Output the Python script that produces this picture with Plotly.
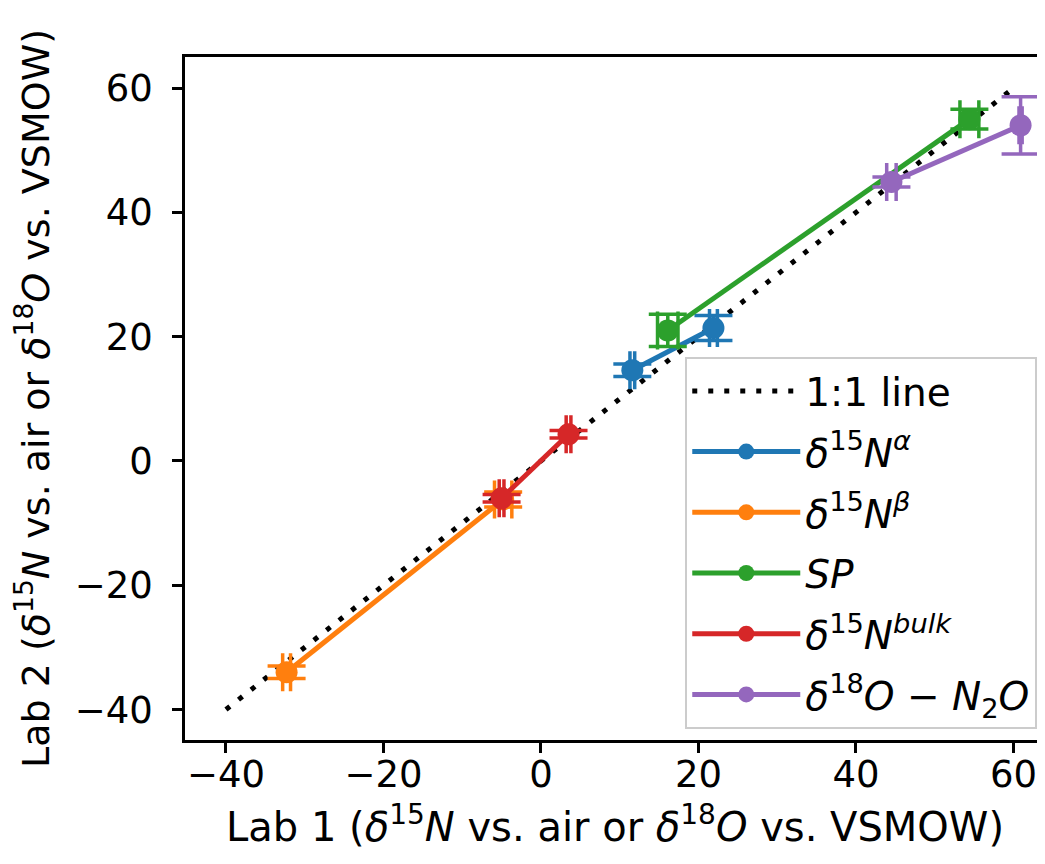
import plotly.graph_objects as go

# ---- data ----
series_names = [
    "<i>δ</i><sup>15</sup><i>N</i><sup><i>α</i></sup>",
    "<i>δ</i><sup>15</sup><i>N</i><sup><i>β</i></sup>",
    "<i>SP</i>",
    "<i>δ</i><sup>15</sup><i>N</i><sup><i>bulk</i></sup>",
    "<i>δ</i><sup>18</sup><i>O</i> − <i>N</i><sub>2</sub><i>O</i>",
]
alpha_x = [11.6, 21.9]
alpha_y = [14.6, 21.4]
alpha_xerr = [0.3, 0.5]
alpha_yerr = [1.0, 2.0]

beta_x = [-32.3, -4.8]
beta_y = [-34.0, -6.2]
beta_xerr = [0.5, 1.1]
beta_yerr = [1.0, 1.2]

sp_x = [16.1, 54.4]
sp_y = [21.0, 55.0]
sp_xerr = [1.3, 1.2]
sp_yerr = [2.6, 1.6]

bulk_x = [-5.0, 3.5]
bulk_y = [-6.0, 4.3]
bulk_xerr = [0.3, 0.3]
bulk_yerr = [0.6, 0.6]

o18_x = [44.5, 60.9]
o18_y = [44.9, 54.0]
o18_xerr = [0.6, 0.2]
o18_yerr = [0.8, 4.6]

one_to_one = [-40, 60]
tick_vals = [-40, -20, 0, 20, 40, 60]

colors = ["#1f77b4", "#ff7f0e", "#2ca02c", "#d62728", "#9467bd"]
FONT = "DejaVu Sans"

fig = go.Figure()
fig.add_trace(go.Scatter(
    x=one_to_one, y=one_to_one, mode="lines", name="1:1 line",
    legendgroup="g0",
    line=dict(color="black", width=5, dash="5px,11px"),
))

groups = [
    (alpha_x, alpha_y, alpha_xerr, alpha_yerr),
    (beta_x, beta_y, beta_xerr, beta_yerr),
    (sp_x, sp_y, sp_xerr, sp_yerr),
    (bulk_x, bulk_y, bulk_xerr, bulk_yerr),
    (o18_x, o18_y, o18_xerr, o18_yerr),
]
for i, (name, col, (gx, gy, gxe, gye)) in enumerate(zip(series_names, colors, groups)):
    fig.add_trace(go.Scatter(
        x=gx, y=gy, mode="lines+markers", name=name,
        legendgroup=f"g{i+1}",
        line=dict(color=col, width=5),
        marker=dict(color=col, size=22),
        error_x=dict(type="data", array=gxe, visible=True, color=col, thickness=3.5, width=19),
        error_y=dict(type="data", array=gye, visible=True, color=col, thickness=3.5, width=19),
    ))

axis_common = dict(
    showline=True, linecolor="black", linewidth=2.5,
    ticks="outside", ticklen=10, tickwidth=2.5, tickcolor="black",
    tickvals=tick_vals, showgrid=False, zeroline=False,
    tickfont=dict(family=FONT, size=37, color="black"),
)
fig.update_xaxes(
    range=[-45.2, 64.0], mirror=True, automargin=False, ticklabelstandoff=-10,
    title=dict(text="Lab 1 (<i>δ</i><sup>15</sup><i>N</i> vs. air or <i>δ</i><sup>18</sup><i>O</i> vs. VSMOW)",
               font=dict(family=FONT, size=40, color="black"), standoff=18),
    **axis_common,
)
fig.update_yaxes(
    range=[-44.9, 65.0], mirror=False, automargin=False, ticklabelstandoff=12,
    title=dict(text="Lab 2 (<i>δ</i><sup>15</sup><i>N</i> vs. air or <i>δ</i><sup>18</sup><i>O</i> vs. VSMOW)",
               font=dict(family=FONT, size=38, color="black"), standoff=22),
    **axis_common,
)
fig.update_layout(
    width=1037, height=856,
    margin=dict(l=177, r=0, t=49, b=124),
    paper_bgcolor="white", plot_bgcolor="white",
    font=dict(family=FONT, size=37, color="black"),
    legend=dict(
        x=0.991, y=0.016, xanchor="right", yanchor="bottom",
        bgcolor="rgba(255,255,255,0.85)", bordercolor="#cccccc", borderwidth=2,
        font=dict(family=FONT, size=39, color="black"),
        tracegroupgap=7, itemwidth=108,
    ),
)
fig.write_html("out.html")
